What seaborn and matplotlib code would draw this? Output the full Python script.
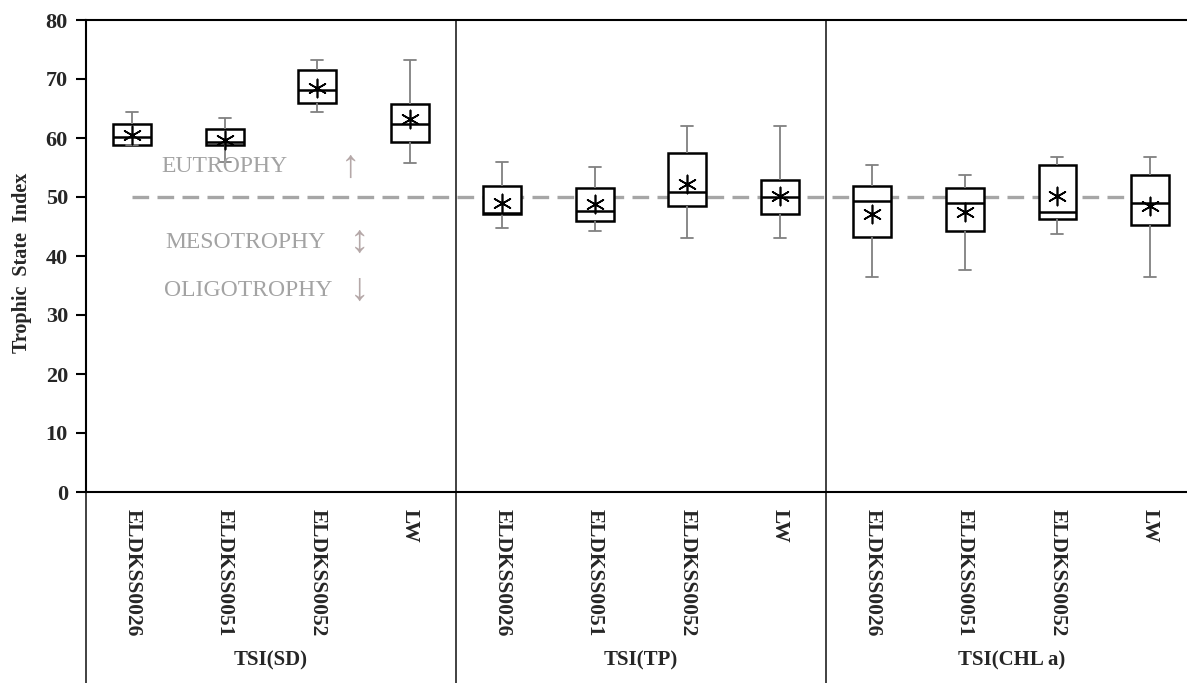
import numpy as np
import pandas as pd
import matplotlib
matplotlib.use("Agg")
import matplotlib.pyplot as plt
import matplotlib.transforms as mtransforms
import seaborn as sns

# categories
groups = ['TSI(SD)', 'TSI(TP)', 'TSI(CHLa)']
group_labels = ['TSI(SD)', 'TSI(TP)', 'TSI(CHL a)']
sites = ['ELDKSS0026', 'ELDKSS0051', 'ELDKSS0052', 'LW']

# box stats, order: SD x4, TP x4, CHLa x4
whisLow = [58.8, 55.9, 64.4, 55.8, 44.7, 44.3, 43.0, 43.0, 36.4, 37.7, 43.7, 36.4]
q1 = [58.8, 58.8, 66.0, 59.4, 47.2, 45.9, 48.5, 47.2, 43.3, 44.2, 46.3, 45.3]
med = [60.2, 59.4, 68.1, 62.4, 47.3, 47.6, 50.9, 50.0, 49.4, 48.9, 47.5, 48.9]
q3 = [62.4, 61.5, 71.6, 65.7, 51.9, 51.6, 57.5, 52.9, 51.9, 51.6, 55.5, 53.8]
whisHigh = [64.4, 63.4, 73.2, 73.2, 55.9, 55.1, 62.1, 62.1, 55.5, 53.8, 56.8, 56.8]
means = [60.5, 59.7, 68.4, 63.3, 48.9, 48.8, 52.2, 50.1, 47.2, 47.4, 50.2, 48.4]
threshold = 50

keys = [g + '|' + s for g in groups for s in sites]
rows = []
for i, k in enumerate(keys):
    for v in (whisLow[i], q1[i], med[i], q3[i], whisHigh[i]):
        rows.append({'key': k, 'value': v})
tsiData = pd.DataFrame(rows)

sns.set_style("white")
plt.rcParams['font.family'] = ['Liberation Serif', 'DejaVu Serif']

fig = plt.figure(figsize=(11.87, 6.83), dpi=100)
ax = fig.add_axes([86/1187, 191/683, 1101/1187, 472/683])

gray = '#808080'
sns.boxplot(data=tsiData, x='key', y='value', order=keys, width=0.41,
            whis=(0, 100), color='white', linecolor='black', linewidth=1.8,
            fliersize=0, capwidths=0.13,
            whiskerprops=dict(color=gray, linewidth=1.3),
            capprops=dict(color=gray, linewidth=1.3),
            medianprops=dict(color='black', linewidth=1.8), ax=ax)

ax.hlines(threshold, 0, len(keys) - 1, colors='#a6a6a6', linestyles=(0, (5, 2.5)),
          linewidth=2.4, zorder=1)

sns.scatterplot(x=np.arange(len(keys)), y=means, marker=(6, 2, 0), s=170,
                color='black', linewidth=1.2, ax=ax, zorder=5, legend=False)

ax.set_xlim(-0.5, 11.4)
ax.set_ylim(0, 80)
ax.set_yticks(np.arange(0, 81, 10))
ax.set_yticklabels([str(v) for v in range(0, 81, 10)], fontsize=16, fontweight='bold')
ax.set_xticks(np.arange(len(keys)))
ax.set_xticklabels([s for g in groups for s in sites], rotation=-90,
                   fontsize=15.5, fontweight='bold', va='top', ha='center')
ax.tick_params(axis='x', length=0, pad=12)
ax.tick_params(axis='y', direction='out', length=7, width=1.5, color='black',
               left=True, pad=6)
ax.set_xlabel('')
ax.set_ylabel('Trophic  State  Index', fontsize=14.5, fontweight='bold')
ax.yaxis.set_label_coords(-0.049, 0.485)

for side in ['left', 'top', 'bottom']:
    ax.spines[side].set_visible(True)
    ax.spines[side].set_color('black')
    ax.spines[side].set_linewidth(1.5)
ax.spines['right'].set_visible(False)

# separators and left frame carried down through the label area
below = -191/472
for xs in [-0.5, 3.5, 7.5]:
    ax.axvline(xs, ymin=below, ymax=1, color='#333333', linewidth=1.3, clip_on=False)

trans = mtransforms.blended_transform_factory(ax.transData, ax.transAxes)
for gi, lab in enumerate(group_labels):
    ax.text(gi*4 + 1.5, -0.356, lab, transform=trans, ha='center', va='center',
            fontsize=15, fontweight='bold')

# trophic state notes
txtc = '#a3a3a3'
arrc = '#b5a8a8'
ax.text(0.31, 55.1, 'EUTROPHY', color=txtc, fontsize=17, ha='left', va='center')
ax.text(0.36, 42.3, 'MESOTROPHY', color=txtc, fontsize=17, ha='left', va='center')
ax.text(0.34, 34.2, 'OLIGOTROPHY', color=txtc, fontsize=17, ha='left', va='center')
ax.text(2.36, 55.0, '\u2191', color=arrc, fontsize=28, ha='center', va='center')
ax.text(2.46, 42.3, '\u2195', color=arrc, fontsize=28, ha='center', va='center')
ax.text(2.46, 34.2, '\u2193', color=arrc, fontsize=28, ha='center', va='center')

fig.savefig('out.png', dpi=100)
